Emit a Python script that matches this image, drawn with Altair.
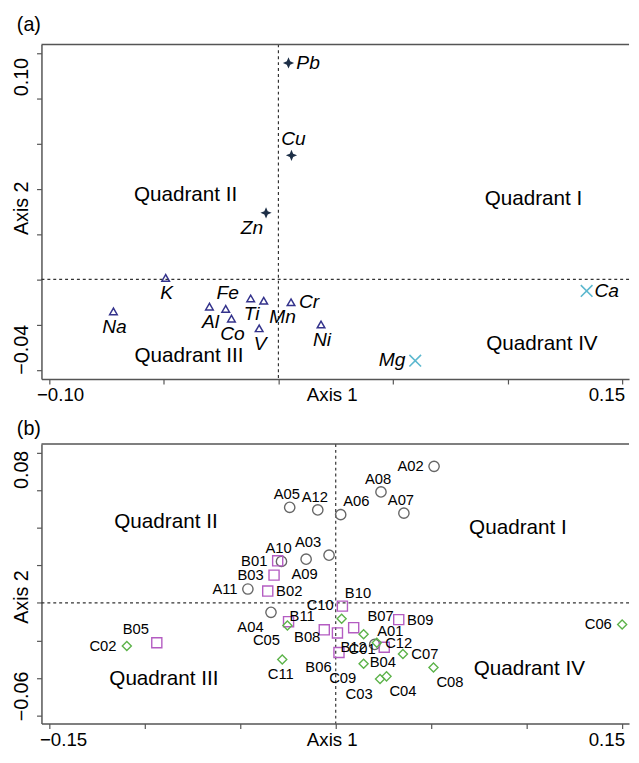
import altair as alt
import pandas as pd

# ---------------- Panel (a): elements ----------------
elements = ["Pb", "Cu", "Zn", "K", "Na", "Al", "Fe", "Co", "Ti", "Mn", "V", "Cr", "Ni", "Ca", "Mg"]
elem_axis1 = [0.0044, 0.0057, -0.0054, -0.0492, -0.0720, -0.0301, -0.0230, -0.0205,
              -0.0121, -0.0064, -0.0084, 0.0055, 0.0186, 0.1345, 0.0597]
elem_axis2 = [0.0956, 0.0548, 0.0294, 0.0007, -0.0141, -0.0120, -0.0130, -0.0173,
              -0.0084, -0.0094, -0.0216, -0.0101, -0.0199, -0.0051, -0.0359]
elem_group = ["star", "star", "star", "triangle", "triangle", "triangle", "triangle", "triangle",
              "triangle", "triangle", "triangle", "triangle", "triangle", "cross", "cross"]
elem_label_pos = ["R", "T", "BL", "B", "B", "B", "T", "B", "B", "BR", "B", "R", "B", "R", "L"]

quadrant_names = ["Quadrant I", "Quadrant II", "Quadrant III", "Quadrant IV"]
quad_a_axis1 = [0.1113, -0.0405, -0.0390, 0.1150]
quad_a_axis2 = [0.0353, 0.0374, -0.0338, -0.0285]

a_x_domain = [-0.1034, 0.1530]
a_y_domain = [-0.0440, 0.1038]
a_x_ticks = [-0.10, -0.05, 0.0, 0.05, 0.10, 0.15]
a_y_ticks = [-0.04, -0.02, 0.0, 0.02, 0.04, 0.06, 0.08, 0.10]

# ---------------- Panel (b): samples ----------------
samples = ["A01", "A02", "A03", "A04", "A05", "A06", "A07", "A08", "A09", "A10", "A11", "A12",
           "B01", "B02", "B03", "B04", "B05", "B06", "B07", "B08", "B09", "B10", "B11", "B12",
           "C01", "C02", "C03", "C04", "C05", "C06", "C07", "C08", "C09", "C10", "C11", "C12"]
samp_axis1 = [0.0204, 0.0515, -0.0035, -0.0339, -0.0241, 0.0026, 0.0357, 0.0237, -0.0155, -0.0284, -0.0460, -0.0094,
              -0.0304, -0.0356, -0.0323, 0.0254, -0.0937, 0.0017, 0.0094, -0.0060, 0.0330, 0.0035, -0.0247, 0.0009,
              0.0146, -0.1094, 0.0232, 0.0266, -0.0253, 0.1500, 0.0352, 0.0512, 0.0146, 0.0031, -0.0280, 0.0215]
samp_axis2 = [-0.0221, 0.0727, 0.0254, -0.0050, 0.0509, 0.0470, 0.0478, 0.0591, 0.0233, 0.0221, 0.0074, 0.0495,
              0.0224, 0.0063, 0.0148, -0.0236, -0.0212, -0.0264, -0.0132, -0.0143, -0.0089, -0.0017, -0.0100, -0.0160,
              -0.0167, -0.0229, -0.0405, -0.0391, -0.0120, -0.0115, -0.0272, -0.0344, -0.0324, -0.0084, -0.0301, -0.0212]
samp_group = ["A"] * 12 + ["B"] * 12 + ["C"] * 12
samp_label_pos = ["TR", "L", "TL", "BL", "T", "TR", "T", "T", "B", "T", "L", "T",
                  "L", "R", "L", "B", "TL", "BL", "TRR", "LB", "R", "TR", "RT", "BR",
                  "B", "L", "BL", "BR", "BL", "L", "R", "BR", "BL", "TL", "B", "R"]

quad_b_axis1 = [0.0954, -0.0889, -0.0900, 0.1014]
quad_b_axis2 = [0.0400, 0.0431, -0.0405, -0.0353]

b_x_domain = [-0.1541, 0.1536]
b_y_domain = [-0.0642, 0.0846]
b_x_ticks = [-0.15, -0.10, -0.05, 0.0, 0.05, 0.10, 0.15]
b_y_ticks = [-0.06, -0.04, -0.02, 0.0, 0.02, 0.04, 0.06, 0.08]

panel_tags = ["(a)", "(b)"]

# ---------------- styling ----------------
FONT = "Liberation Sans"
AXIS_GRAY = "#555555"
W = 597
H_A = 340
H_B = 284
STAR = "M0,-1L0.3,-0.3L1,0L0.3,0.3L0,1L-0.3,0.3L-1,0L-0.3,-0.3Z"
XMARK = "M-1,-1L1,1M-1,1L1,-1"

# label placements: code -> (align, dx, dy)
place_a = {"R": ("left", 8, 0), "L": ("right", -10, -1), "T": ("center", 2, -16.5),
           "B": ("center", 1, 16), "BL": ("right", -3, 15.5), "BR": ("left", 5.5, 17)}
place_b = {"L": ("right", -10.5, 0), "R": ("left", 8.5, 0), "T": ("center", -3, -13.5),
           "B": ("center", -1.5, 15), "TL": ("right", -8, -13.5), "TR": ("left", 2.5, -13.5),
           "TRR": ("left", 14, -12), "BL": ("right", -7.5, 15), "BR": ("left", 3, 14.5),
           "LB": ("right", -4, 7), "RT": ("left", 1, -5.5)}


def ends_expr(lo, hi):
    return (f"abs(datum.value - ({lo})) < 1e-9 || abs(datum.value - ({hi})) < 1e-9"
            " ? datum.label : ''")


def encodings(xdom, ydom, xt, yt, xoff, yoff, ytitle_y):
    xax = alt.Axis(values=xt, format=".2f", labelExpr=ends_expr(xt[0], xt[-1]), title="Axis 1",
                   grid=False, tickSize=5, tickColor=AXIS_GRAY, tickWidth=1.2,
                   domainColor=AXIS_GRAY, domainWidth=1.5,
                   labelFontSize=19, labelColor="black", labelPadding=2, labelAlign="center",
                   labelBaseline="top", labelFlush=False, labelOverlap=False,
                   labelOffset={"condition": {"test": "datum.value < 0", "value": xoff[0]}, "value": xoff[1]},
                   titleFontSize=19, titleFontWeight="normal", titleColor="black",
                   titleX=295, titleY=7, titleBaseline="top", titleAlign="center")
    yax = alt.Axis(values=yt, format=".2f", labelExpr=ends_expr(yt[0], yt[-1]), title="Axis 2",
                   grid=False, tickSize=5, tickColor=AXIS_GRAY, tickWidth=1.2,
                   domainColor=AXIS_GRAY, domainWidth=1.5,
                   labelFontSize=20, labelColor="black", labelPadding=9, labelAngle=270,
                   labelAlign="center", labelBaseline="alphabetic", labelFlush=False, labelOverlap=False,
                   labelOffset={"condition": {"test": "datum.value > 0", "value": yoff[0]}, "value": yoff[1]},
                   titleFontSize=20, titleFontWeight="normal", titleColor="black",
                   titleAngle=270, titleX=-14, titleY=ytitle_y, titleBaseline="alphabetic",
                   titleAlign="center")
    X = alt.X("x:Q", scale=alt.Scale(domain=xdom, nice=False, zero=False), axis=xax)
    Y = alt.Y("y:Q", scale=alt.Scale(domain=ydom, nice=False, zero=False), axis=yax)
    return X, Y


def frame_layers(X, Y, tag, xdom, ydom, tag_y):
    zero_df = pd.DataFrame({"x": [0.0], "y": [0.0], "tag": [tag]})
    box_df = pd.DataFrame({"x": [xdom[0]], "x2": [xdom[1]], "y": [ydom[1]]})
    vline = alt.Chart(zero_df).mark_rule(color="#333333", strokeDash=[3, 3], strokeWidth=1.2).encode(x=X)
    hline = alt.Chart(zero_df).mark_rule(color="#333333", strokeDash=[3, 3], strokeWidth=1.2).encode(y=Y)
    top = alt.Chart(box_df).mark_rule(color=AXIS_GRAY, strokeWidth=1.5).encode(x=X, x2="x2:Q", y=Y)
    tag_text = alt.Chart(zero_df).mark_text(align="left", baseline="bottom", fontSize=20, font=FONT,
                                            color="black").encode(
        x=alt.value(-25), y=alt.value(tag_y), text="tag:N")
    return [vline, hline, top, tag_text]


def label_layers(df, X, Y, places, size, style):
    out = []
    for code, (align, dx, dy) in places.items():
        if code not in set(df["pos"]):
            continue
        out.append(alt.Chart(df).transform_filter(f"datum.pos == '{code}'").mark_text(
            align=align, baseline="middle", dx=dx, dy=dy, fontSize=size, fontStyle=style,
            font=FONT, color="black").encode(x=X, y=Y, text="name:N"))
    return out


def quad_layer(names, qx, qy, X, Y):
    qdf = pd.DataFrame({"name": names, "x": qx, "y": qy})
    return alt.Chart(qdf).mark_text(align="center", baseline="middle", fontSize=21, font=FONT,
                                    color="black").encode(x=X, y=Y, text="name:N")


# ---------------- panel (a) ----------------
df_a = pd.DataFrame({"name": elements, "x": elem_axis1, "y": elem_axis2,
                     "kind": elem_group, "pos": elem_label_pos})
Xa, Ya = encodings(a_x_domain, a_y_domain, a_x_ticks, a_y_ticks, (11, -16), (24, -21), 166)

stars = alt.Chart(df_a).transform_filter("datum.kind == 'star'").mark_point(
    shape=STAR, filled=True, size=130, color="#1d2f47", opacity=1).encode(x=Xa, y=Ya)
tris = alt.Chart(df_a).transform_filter("datum.kind == 'triangle'").mark_point(
    shape="triangle-up", filled=False, size=60, color="#34338c", strokeWidth=1.5, opacity=1).encode(x=Xa, y=Ya)
crosses = alt.Chart(df_a).transform_filter("datum.kind == 'cross'").mark_point(
    shape=XMARK, filled=False, size=140, color="#5cb8cf", strokeWidth=1.6, opacity=1).encode(x=Xa, y=Ya)

panel_a = alt.layer(
    *frame_layers(Xa, Ya, panel_tags[0], a_x_domain, a_y_domain, -10),
    quad_layer(quadrant_names, quad_a_axis1, quad_a_axis2, Xa, Ya),
    stars, tris, crosses,
    *label_layers(df_a, Xa, Ya, place_a, 19.5, "italic"),
).properties(width=W, height=H_A)

# ---------------- panel (b) ----------------
df_b = pd.DataFrame({"name": samples, "x": samp_axis1, "y": samp_axis2,
                     "kind": samp_group, "pos": samp_label_pos})
Xb, Yb = encodings(b_x_domain, b_y_domain, b_x_ticks, b_y_ticks, (14, -16), (17, -20), 155)

circ = alt.Chart(df_b).transform_filter("datum.kind == 'A'").mark_point(
    shape="circle", filled=False, size=110, color="#666666", strokeWidth=1.4, opacity=1).encode(x=Xb, y=Yb)
sq = alt.Chart(df_b).transform_filter("datum.kind == 'B'").mark_point(
    shape="square", filled=False, size=105, color="#b45cc2", strokeWidth=1.4, opacity=1).encode(x=Xb, y=Yb)
dia = alt.Chart(df_b).transform_filter("datum.kind == 'C'").mark_point(
    shape="diamond", filled=False, size=85, color="#5db34a", strokeWidth=1.4, opacity=1).encode(x=Xb, y=Yb)

panel_b = alt.layer(
    *frame_layers(Xb, Yb, panel_tags[1], b_x_domain, b_y_domain, -5),
    quad_layer(quadrant_names, quad_b_axis1, quad_b_axis2, Xb, Yb),
    circ, sq, dia,
    *label_layers(df_b, Xb, Yb, place_b, 15, "normal"),
).properties(width=W, height=H_B)

chart = alt.vconcat(panel_a, panel_b, spacing=66, bounds="flush").properties(
    padding={"left": 3, "top": 0, "right": 0, "bottom": 0}
).configure(font=FONT).configure_view(stroke="transparent")

chart.save("out.html", embed_options={"renderer": "svg", "actions": False})
